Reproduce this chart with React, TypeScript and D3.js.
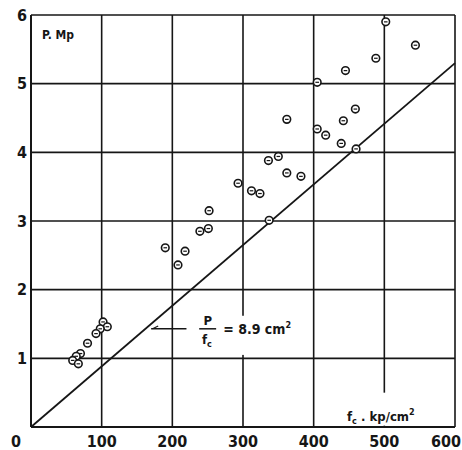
import React from 'react';
import * as d3 from 'd3';

// f_c in kp/cm², P in Mp
const fcValues = [102, 108, 98, 92, 80, 70, 64, 59, 67,
  190, 218, 208, 239, 251, 252, 293, 312, 324, 337, 336, 350, 362, 382,
  362, 405, 417, 439, 460, 442, 459, 405, 445, 488, 544, 502];
const pValues = [1.53, 1.46, 1.43, 1.36, 1.22, 1.07, 1.03, 0.97, 0.92,
  2.61, 2.56, 2.36, 2.85, 2.89, 3.15, 3.55, 3.44, 3.40, 3.01, 3.88, 3.94, 3.70, 3.65,
  4.48, 4.34, 4.25, 4.13, 4.05, 4.46, 4.63, 5.02, 5.19, 5.37, 5.56, 5.90];

// line P/fc = 8.9 cm²
const lineFc = [0, 600];
const lineP = [0, 5.3];

const xTicks = [100, 200, 300, 400, 500, 600];
const yTicks = [1, 2, 3, 4, 5, 6];

const W = 462;
const H = 450;
const ink = '#161616';
const font = '"DejaVu Sans Condensed", "DejaVu Sans", sans-serif';

const App = () => {
  const x = d3.scaleLinear().domain([0, 600]).range([31, 455]);
  const y = d3.scaleLinear().domain([0, 6]).range([427, 15]);

  const line = d3.line<number>()
    .x((d, i) => x(lineFc[i]))
    .y((d) => y(d));

  return (
    <svg width={W} height={H} style={{ position: 'absolute', left: 0, top: 0, background: '#fff' }}>
      {/* grid */}
      {xTicks.map((t) => (
        <line key={'gx' + t} x1={x(t)} x2={x(t)} y1={y(0)} y2={y(6)} stroke={ink} strokeWidth={1.6} />
      ))}
      {yTicks.map((t) => (
        <line key={'gy' + t} x1={x(0)} x2={x(600)} y1={y(t)} y2={y(t)} stroke={ink} strokeWidth={1.6} />
      ))}
      <line x1={x(0)} x2={x(0)} y1={y(0)} y2={y(6)} stroke={ink} strokeWidth={2} />
      <line x1={x(0)} x2={x(600)} y1={y(0)} y2={y(0)} stroke={ink} strokeWidth={2} />

      {/* white patches behind the labels (the grid is broken there) */}
      <rect x={x(270)} y={y(1.62)} width={x(380) - x(270)} height={y(1.05) - y(1.62)} fill="#fff" />
      <rect x={x(445)} y={y(0.5)} width={x(595) - x(445)} height={y(0.02) - y(0.5)} fill="#fff" />

      {/* regression line */}
      <path d={line(lineP) || ''} fill="none" stroke={ink} strokeWidth={1.8} />

      {/* points */}
      {fcValues.map((f, i) => (
        <g key={'p' + i} transform={`translate(${x(f)},${y(pValues[i])})`}>
          <circle r={3.8} fill="#fff" stroke={ink} strokeWidth={1.6} />
          <line x1={-1.8} x2={1.8} y1={0} y2={0} stroke={ink} strokeWidth={1.2} />
        </g>
      ))}

      {/* annotation P/fc = 8.9 cm² */}
      <line x1={x(170)} x2={x(220)} y1={y(1.43)} y2={y(1.43)} stroke={ink} strokeWidth={1.6} />
      <line x1={x(172)} x2={x(180)} y1={y(1.43)} y2={y(1.47)} stroke={ink} strokeWidth={1.2} />
      <g fontFamily={font} fontWeight="bold" fill={ink}>
        <text x={x(250)} y={y(1.49)} fontSize={13} textAnchor="middle">P</text>
        <line x1={x(238)} x2={x(262)} y1={y(1.43)} y2={y(1.43)} stroke={ink} strokeWidth={1.5} />
        <text x={x(249)} y={y(1.21)} fontSize={13} textAnchor="middle">f<tspan fontSize={9} dy={3}>c</tspan></text>
        <text x={x(272)} y={y(1.35)} fontSize={14}>= 8.9 cm<tspan fontSize={9} dy={-6}>2</tspan></text>
      </g>

      {/* axis labels */}
      <g fontFamily={font} fontWeight="bold" fill={ink}>
        <text x={42} y={39} fontSize={12}>P. Mp</text>
        <text x={347} y={421} fontSize={13}>f<tspan fontSize={9} dy={3}>c</tspan><tspan dy={-3}> . kp/cm</tspan><tspan fontSize={9} dy={-6}>2</tspan></text>
      </g>

      {/* tick labels */}
      <g fontFamily={font} fontWeight="bold" fill={ink} fontSize={16}>
        {yTicks.map((t) => (
          <text key={'ty' + t} x={27} y={y(t)} dy="0.36em" textAnchor="end">{t}</text>
        ))}
        <text x={16} y={447} textAnchor="middle">0</text>
        {xTicks.map((t) => (
          <text key={'tx' + t} x={t === 600 ? W - 1 : x(t)} y={447} textAnchor={t === 600 ? 'end' : 'middle'}>{t}</text>
        ))}
      </g>
    </svg>
  );
};

export default App;
